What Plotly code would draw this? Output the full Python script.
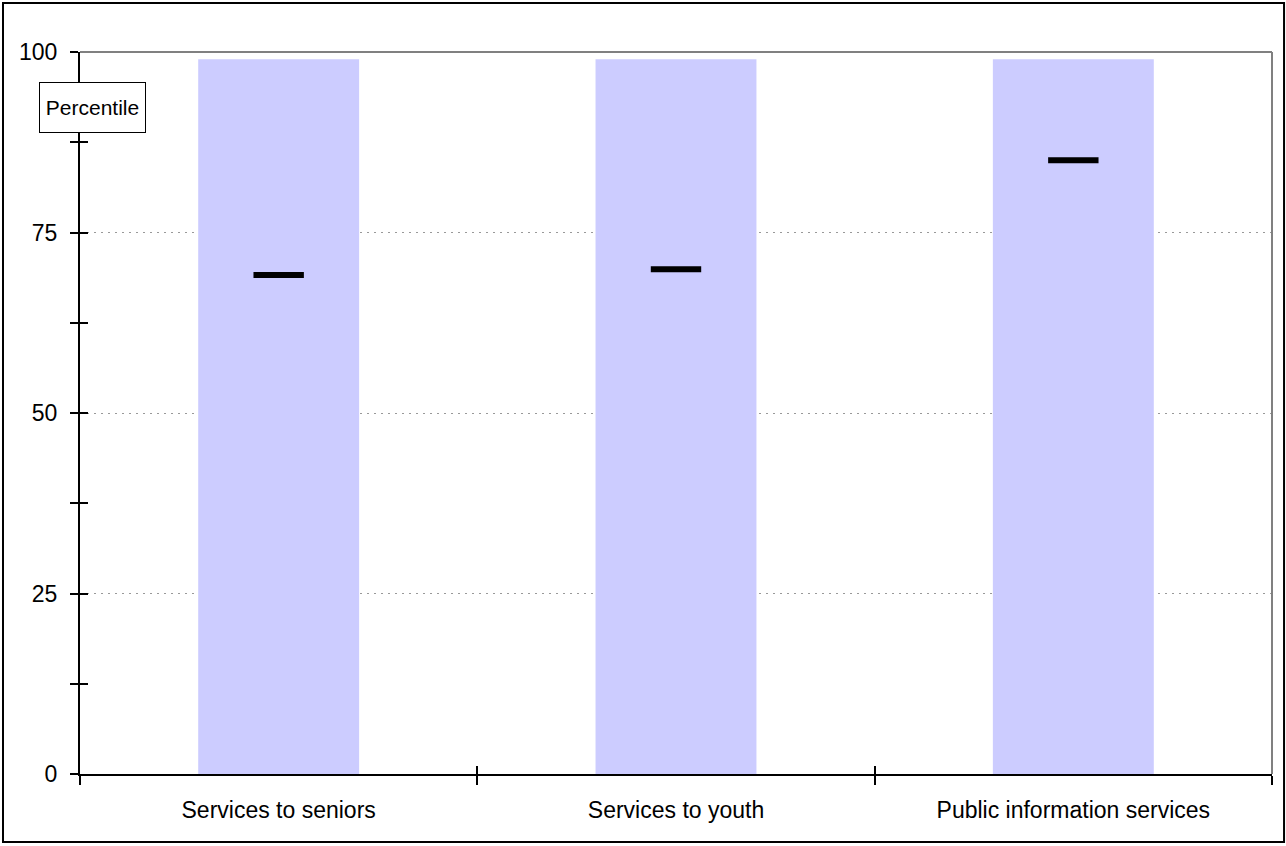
import plotly.graph_objects as go

categories = ["Services to seniors", "Services to youth", "Public information services"]
range_values = [99, 99, 99]
percentile_values = [69.1, 69.9, 85.0]
y_tickvals = [0, 25, 50, 75, 100]
y_ticktext = ["0", "25", "50", "75", "100"]

FONT = "Liberation Sans, Arial, sans-serif"

fig = go.Figure()
fig.add_trace(go.Bar(x=categories, y=range_values, marker=dict(color="#CCCCFF", line=dict(width=0)),
                     hoverinfo="skip", showlegend=False))
fig.add_trace(go.Scatter(x=categories, y=percentile_values, mode="markers",
                         marker=dict(symbol="line-ew", size=36, line=dict(width=6, color="black")),
                         showlegend=False))
# invisible trace on overlay axes to draw crossing ticks
fig.add_trace(go.Scatter(x=categories, y=percentile_values, mode="markers", xaxis="x2", yaxis="y2",
                         marker=dict(opacity=0), hoverinfo="skip", showlegend=False))

fig.update_layout(
    width=1286, height=846,
    margin=dict(l=80, r=14, t=52, b=72),
    paper_bgcolor="white", plot_bgcolor="white",
    bargap=0.595,
    font=dict(family=FONT, size=23, color="black"),
    xaxis=dict(type="category", range=[-0.5, 2.5], showline=True, linecolor="black", linewidth=2,
               ticks="outside", tickson="boundaries", ticklen=9, tickwidth=2, tickcolor="black",
               ticklabelstandoff=14, showgrid=False, zeroline=False, fixedrange=True),
    yaxis=dict(range=[0, 100], tickvals=y_tickvals, ticktext=y_ticktext, showline=True,
               linecolor="black", linewidth=2, ticks="outside", ticklen=8, tickwidth=2,
               tickcolor="black", ticklabelstandoff=8, showgrid=True, gridcolor="#999999",
               griddash="2px,5px", gridwidth=1, zeroline=False, fixedrange=True,
               minor=dict(dtick=12.5, tick0=0, ticks="outside", ticklen=8, tickwidth=2,
                          tickcolor="black", showgrid=False)),
    xaxis2=dict(type="category", range=[-0.5, 2.5], overlaying="x", ticks="inside",
                tickson="boundaries", ticklen=8, tickwidth=2, tickcolor="black",
                showticklabels=False, showgrid=False, zeroline=False, showline=False),
    yaxis2=dict(range=[0, 100], overlaying="y", tickvals=y_tickvals, ticks="inside", ticklen=8,
                tickwidth=2, tickcolor="black", showticklabels=False, showgrid=False,
                zeroline=False, showline=False,
                minor=dict(dtick=12.5, tick0=0, ticks="inside", ticklen=8, tickwidth=2,
                           tickcolor="black", showgrid=False)),
    shapes=[
        dict(type="line", xref="paper", yref="paper", x0=0, x1=1, y0=1, y1=1,
             line=dict(color="#808080", width=2)),
        dict(type="line", xref="paper", yref="paper", x0=1, x1=1, y0=0, y1=1,
             line=dict(color="#808080", width=2)),
        dict(type="rect", xref="paper", yref="paper", x0=-0.0646, x1=1.0101, y0=-0.0942, y1=1.0679,
             line=dict(color="black", width=2), fillcolor="rgba(0,0,0,0)", layer="above"),
    ],
    annotations=[
        dict(text="Percentile", xref="paper", yref="paper", x=0.0101, y=0.923, showarrow=False,
             font=dict(family=FONT, size=21, color="black"), bgcolor="white",
             bordercolor="black", borderwidth=1, width=103, height=47,
             xanchor="center", yanchor="middle"),
    ],
)

fig.write_html("out.html", config={"displayModeBar": False},
               post_script="document.body.style.margin='0';document.body.style.overflow='hidden';")
